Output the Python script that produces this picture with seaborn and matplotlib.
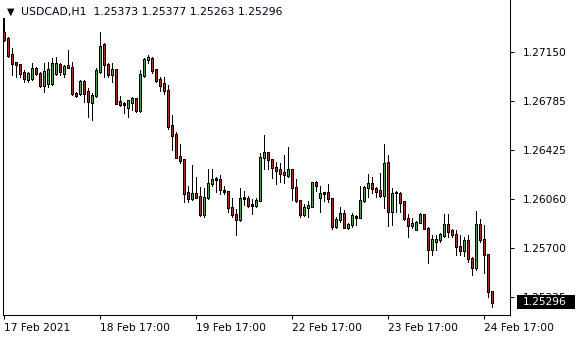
import numpy as np
import pandas as pd
import matplotlib
matplotlib.use("Agg")
import matplotlib.pyplot as plt
import matplotlib.transforms as mtransforms
from matplotlib.patches import Rectangle
import seaborn as sns

# ---- data (USDCAD H1 candles) ----
opens = [1.27293, 1.27252, 1.27128, 1.27071, 1.27054, 1.26997, 1.26948, 1.26955, 1.27029, 1.26992,
         1.26905, 1.26918, 1.26918, 1.26992, 1.27054, 1.26992, 1.27046, 1.27037, 1.26844, 1.26844,
         1.26930, 1.26856, 1.26774, 1.26824, 1.27004, 1.27202, 1.27054, 1.26980, 1.27017, 1.26782,
         1.26767, 1.26740, 1.26777, 1.26802, 1.26715, 1.26974, 1.27091, 1.27103, 1.27017, 1.26943,
         1.26913, 1.26868, 1.26602, 1.26535, 1.26374, 1.26350, 1.26107, 1.26066, 1.26103, 1.26078,
         1.25942, 1.26073, 1.26172, 1.26211, 1.26207, 1.26120, 1.26113, 1.25999, 1.25942, 1.25905,
         1.26070, 1.26066, 1.26019, 1.26016, 1.26053, 1.26370, 1.26407, 1.26350, 1.26296, 1.26276,
         1.26256, 1.26231, 1.26276, 1.26147, 1.26053, 1.25942, 1.25999, 1.26004, 1.26185, 1.26073,
         1.26100, 1.26107, 1.26066, 1.25855, 1.25905, 1.25955, 1.25848, 1.25875, 1.25933, 1.25925,
         1.26048, 1.26147, 1.26177, 1.26135, 1.26122, 1.26083, 1.26333, 1.25967, 1.26110, 1.26103,
         1.26041, 1.25918, 1.25863, 1.25836, 1.25888, 1.25942, 1.25844, 1.25683, 1.25744, 1.25757,
         1.25789, 1.25875, 1.25824, 1.25794, 1.25712, 1.25678, 1.25750, 1.25621, 1.25552, 1.25868,
         1.25757, 1.25646, 1.25373]
highs = [1.27402, 1.27261, 1.27177, 1.27078, 1.27054, 1.27017, 1.27004, 1.27066, 1.27041, 1.27004,
         1.27066, 1.27078, 1.27103, 1.27115, 1.27066, 1.27054, 1.27165, 1.27078, 1.26856, 1.26943,
         1.26943, 1.26881, 1.26844, 1.27029, 1.27300, 1.27219, 1.27066, 1.27066, 1.27017, 1.26824,
         1.26782, 1.26794, 1.26819, 1.26807, 1.27017, 1.27103, 1.27128, 1.27115, 1.27022, 1.26963,
         1.26963, 1.26905, 1.26683, 1.26559, 1.26468, 1.26355, 1.26157, 1.26313, 1.26222, 1.26152,
         1.26140, 1.26281, 1.26281, 1.26222, 1.26239, 1.26157, 1.26122, 1.26066, 1.25984, 1.26140,
         1.26122, 1.26083, 1.26059, 1.26066, 1.26404, 1.26535, 1.26411, 1.26355, 1.26337, 1.26325,
         1.26387, 1.26444, 1.26281, 1.26207, 1.26053, 1.26024, 1.26048, 1.26189, 1.26196, 1.26159,
         1.26115, 1.26172, 1.26066, 1.25925, 1.25999, 1.25979, 1.25881, 1.25955, 1.25942, 1.26157,
         1.26157, 1.26246, 1.26226, 1.26152, 1.26251, 1.26468, 1.26387, 1.26140, 1.26122, 1.26115,
         1.26041, 1.25950, 1.25918, 1.25900, 1.25955, 1.25942, 1.25851, 1.25794, 1.25794, 1.25807,
         1.25950, 1.25950, 1.25836, 1.25831, 1.25794, 1.25781, 1.25794, 1.25633, 1.25974, 1.25913,
         1.25868, 1.25646, 1.25377]
lows = [1.27232, 1.27113, 1.26980, 1.26967, 1.26967, 1.26930, 1.26930, 1.26943, 1.26980, 1.26893,
        1.26856, 1.26893, 1.26905, 1.26980, 1.26980, 1.26967, 1.27029, 1.26831, 1.26819, 1.26831,
        1.26782, 1.26671, 1.26646, 1.26819, 1.26992, 1.26967, 1.26963, 1.26930, 1.26765, 1.26750,
        1.26700, 1.26671, 1.26720, 1.26708, 1.26708, 1.26967, 1.27066, 1.26997, 1.26930, 1.26863,
        1.26839, 1.26577, 1.26424, 1.26365, 1.26330, 1.26041, 1.26041, 1.26053, 1.26066, 1.25935,
        1.25930, 1.26059, 1.26159, 1.26115, 1.26098, 1.26098, 1.25967, 1.25930, 1.25794, 1.25900,
        1.26016, 1.25999, 1.25947, 1.25999, 1.26048, 1.26281, 1.26281, 1.26214, 1.26172, 1.26189,
        1.26177, 1.26222, 1.26053, 1.26041, 1.25930, 1.25935, 1.25925, 1.25999, 1.26122, 1.25967,
        1.26046, 1.26041, 1.25838, 1.25844, 1.25893, 1.25844, 1.25838, 1.25855, 1.25868, 1.25918,
        1.26041, 1.26078, 1.26103, 1.26073, 1.26078, 1.25992, 1.25861, 1.25868, 1.25967, 1.25967,
        1.25905, 1.25777, 1.25844, 1.25831, 1.25881, 1.25836, 1.25584, 1.25646, 1.25683, 1.25744,
        1.25777, 1.25781, 1.25781, 1.25646, 1.25646, 1.25638, 1.25596, 1.25498, 1.25535, 1.25744,
        1.25515, 1.25332, 1.25263]
closes = [1.27244, 1.27123, 1.27066, 1.27059, 1.26992, 1.26955, 1.26992, 1.27029, 1.26992, 1.26898,
          1.27004, 1.27017, 1.27066, 1.27061, 1.27004, 1.27041, 1.27037, 1.26844, 1.26831, 1.26930,
          1.26844, 1.26782, 1.26824, 1.27011, 1.27194, 1.27054, 1.26980, 1.27017, 1.26770, 1.26757,
          1.26762, 1.26787, 1.26802, 1.26715, 1.26980, 1.27091, 1.27108, 1.27011, 1.26937, 1.26905,
          1.26868, 1.26596, 1.26528, 1.26370, 1.26345, 1.26103, 1.26066, 1.26103, 1.26073, 1.25942,
          1.26073, 1.26172, 1.26207, 1.26204, 1.26133, 1.26113, 1.25999, 1.25942, 1.25910, 1.26066,
          1.26063, 1.26016, 1.26014, 1.26053, 1.26370, 1.26407, 1.26350, 1.26296, 1.26270, 1.26251,
          1.26239, 1.26276, 1.26147, 1.26053, 1.25942, 1.25999, 1.26009, 1.26185, 1.26157, 1.26098,
          1.26105, 1.26066, 1.25855, 1.25905, 1.25955, 1.25848, 1.25875, 1.25935, 1.25927, 1.26048,
          1.26147, 1.26177, 1.26135, 1.26115, 1.26083, 1.26320, 1.25967, 1.26103, 1.26105, 1.26036,
          1.25918, 1.25863, 1.25881, 1.25888, 1.25942, 1.25844, 1.25683, 1.25757, 1.25764, 1.25794,
          1.25875, 1.25818, 1.25794, 1.25707, 1.25678, 1.25750, 1.25621, 1.25552, 1.25868, 1.25757,
          1.25646, 1.25373, 1.25296]

price_ticks = [1.27150, 1.26785, 1.26425, 1.26060, 1.25700, 1.25335]
time_tick_index = [0, 24, 48, 72, 96, 120]
time_tick_labels = ["17 Feb 2021", "18 Feb 17:00", "19 Feb 17:00",
                    "22 Feb 17:00", "23 Feb 17:00", "24 Feb 17:00"]
symbol = "USDCAD,H1"

# ---- style ----
sns.set_theme(style="white")
plt.rcParams['font.family'] = ['DejaVu Sans']

BULL = "#2db82d"
BEAR = "#ee1111"

df = pd.DataFrame({"open": opens, "high": highs, "low": lows, "close": closes})
df["idx"] = np.arange(len(df))
df["bull"] = df["close"] > df["open"]
df["body_lo"] = df[["open", "close"]].min(axis=1)
df["body_hi"] = df[["open", "close"]].max(axis=1)

fig = plt.figure(figsize=(5.8, 3.4), dpi=100)
ax = fig.add_axes([3 / 580, 25 / 340, 507 / 580, 315 / 340])
ax.set_facecolor("white")
ax.set_xlim(-0.125, 126.625)
ax.set_ylim(1.25201, 1.27535)

PX = 72.0 / fig.dpi                      # one pixel in points
px_y = (ax.get_ylim()[1] - ax.get_ylim()[0]) / 315.0   # one pixel in price
AXW = 507.0                               # axes width in pixels

# wicks
ax.vlines(df["idx"], df["low"], df["high"], color="black", linewidth=PX,
          antialiased=False, capstyle="butt", zorder=2)
# body outline (3 px wide black slab)
ax.vlines(df["idx"], df["body_lo"] - px_y / 2, df["body_hi"] + px_y / 2,
          color="black", linewidth=3 * PX, antialiased=False,
          capstyle="butt", zorder=3)
# coloured fill inside the outline
inner = df[(df["body_hi"] - df["body_lo"]) > px_y]
ax.vlines(inner["idx"], inner["body_lo"] + px_y / 2, inner["body_hi"] - px_y / 2,
          colors=np.where(inner["bull"], BULL, BEAR).tolist(), linewidth=PX,
          antialiased=False, capstyle="butt", zorder=4)

# axes styling
ax.yaxis.tick_right()
ax.set_yticks(price_ticks)
ax.set_yticklabels([f"{v:.5f}" for v in price_ticks])
ax.set_xticks(time_tick_index)
ax.set_xticklabels(time_tick_labels, ha="left")
ax.tick_params(axis="y", right=True, left=False, direction="out", length=3,
               width=0.75, pad=6.3, labelsize=7.7, colors="black")
ax.tick_params(axis="x", bottom=True, direction="out", length=3,
               width=0.75, pad=2.5, labelsize=7.7, colors="black")
ax.set_xlabel("")
ax.set_ylabel("")
for side in ["left", "right", "bottom"]:
    ax.spines[side].set_color("black")
    ax.spines[side].set_linewidth(0.75)
ax.spines["top"].set_visible(False)
ax.spines["left"].set_bounds(ax.get_ylim()[0], highs[0])
ax.grid(False)

# current price box
trans = mtransforms.blended_transform_factory(ax.transAxes, ax.transData)
ax.add_patch(Rectangle((1 + 7 / AXW, closes[-1] - 7 * px_y), 58 / AXW, 14 * px_y,
                       transform=trans, facecolor="black", edgecolor="none",
                       clip_on=False, zorder=9))
ax.text(1 + 13 / AXW, closes[-1], f"{closes[-1]:.5f}", transform=trans,
        ha="left", va="center", color="white", fontsize=7.7,
        clip_on=False, zorder=10)

# header
ax.text(8 / AXW, 1 - 12 / 315, "\u25BC", transform=ax.transAxes,
        ha="center", va="center", fontsize=7, color="black")
ax.text(18 / AXW, 1 - 12 / 315,
        f"{symbol}  {opens[-1]:.5f} {highs[-1]:.5f} {lows[-1]:.5f} {closes[-1]:.5f}",
        transform=ax.transAxes, ha="left", va="center", fontsize=7.8,
        color="#000020")

fig.savefig("out.png", dpi=100, facecolor="white")
